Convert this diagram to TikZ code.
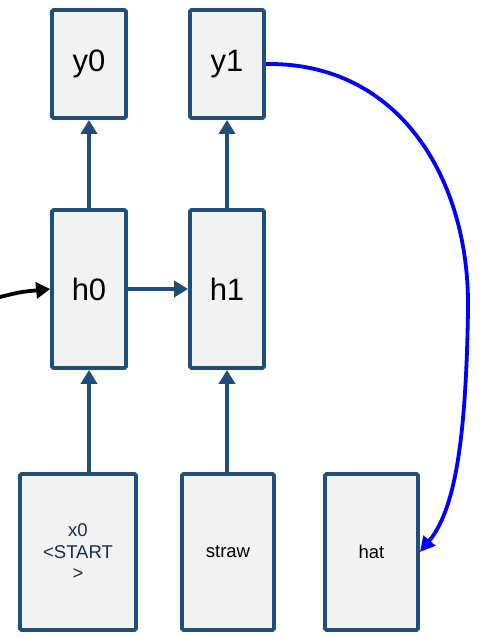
\documentclass[tikz,border=0pt]{standalone}
\usepackage{fontspec}
\setmainfont{Liberation Sans}
\usetikzlibrary{arrows.meta}
\definecolor{navy}{HTML}{1F4E79}
\definecolor{boxfill}{HTML}{F2F2F2}
\definecolor{txtnavy}{HTML}{1A2E45}
\tikzset{
  cell/.style={draw=navy, fill=boxfill, line width=3.8pt, rounded corners=1.5pt, inner sep=0pt, align=center},
  big/.style={cell, minimum width=74pt, font=\fontsize{31}{31}\selectfont},
  small/.style={cell, minimum height=156pt, font=\fontsize{18.5}{21.5}\selectfont},
  navyarrow/.style={draw=navy, line width=3.8pt, -{Triangle[width=16pt,length=14pt]}},
  bluearrow/.style={draw=blue, line width=3.8pt, -{Triangle[width=15pt,length=15pt]}},
  blackarrow/.style={draw=black, line width=3.8pt, -{Triangle[width=16pt,length=14pt]}}
}
\begin{document}
\begin{tikzpicture}[x=1pt,y=-1pt]
\useasboundingbox (0,0) rectangle (481,638);
\node[big, minimum height=108pt] (y0) at (89,64) {y0};
\node[big, minimum height=108pt] (y1) at (227,64) {y1};
\node[big, minimum height=158pt] (h0) at (89,289) {h0};
\node[big, minimum height=158pt] (h1) at (227,289) {h1};
\node[small, minimum width=116pt, text=txtnavy] (x0) at (78,552) {x0\\{<}START\\{>}};
\node[small, minimum width=92pt] (straw) at (228,552) {straw};
\node[small, minimum width=93pt] (hat) at (371.5,552) {hat};
\coordinate (lft) at (-4,298);
\draw[navyarrow] (h0) -- (y0);
\draw[navyarrow] (h1) -- (y1);
\draw[navyarrow] (h0) -- (h1);
\draw[navyarrow] (h0.south |- x0.north) -- (h0.south);
\draw[navyarrow] (h1.south |- straw.north) -- (h1.south);
\draw[blackarrow] (lft) .. controls (20,292) .. (h0.west);
\draw[bluearrow] (y1.east) .. controls (400,62) and (470,180) .. (468,310)
  .. controls (466,440) and (455,510) .. (hat.east);
\end{tikzpicture}
\end{document}
